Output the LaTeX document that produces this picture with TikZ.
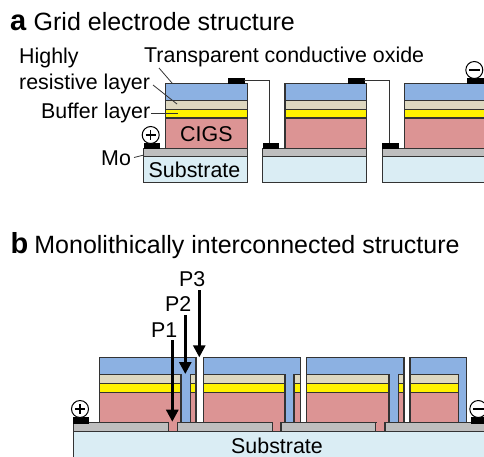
\documentclass[tikz,border=0pt]{standalone}
\usepackage{fontspec}
\setmainfont{Liberation Sans}
\usetikzlibrary{arrows.meta}
\definecolor{tcoblue}{HTML}{8CB1E2}
\definecolor{hrbeige}{HTML}{DED8C0}
\definecolor{cigsred}{HTML}{DC9494}
\definecolor{mogrey}{HTML}{BEBEBE}
\definecolor{subblue}{HTML}{DAEDF4}
\definecolor{edgegrey}{HTML}{333333}
\tikzset{
	film/.style={draw=edgegrey, line width=1.3pt},
	contact/.style={fill=black, draw=black, line width=0.4pt},
	lead/.style={draw=edgegrey, line width=0.8pt},
	wire/.style={draw=edgegrey, line width=0.9pt},
	sign/.style={draw=black, fill=white, circle, line width=1pt, minimum size=17pt, inner sep=0pt},
	signbar/.style={line width=1.1pt},
	textlabel/.style={anchor=base west, font=\fontsize{21.4}{21.4}\selectfont, inner sep=0pt},
	headline/.style={anchor=base west, font=\fontsize{25}{25}\selectfont, inner sep=0pt},
	panel/.style={anchor=base west, font=\fontsize{29}{29}\selectfont\bfseries, inner sep=0pt},
	scribe/.style={line width=2.8pt, black, -{Triangle[length=12pt,width=12pt]}}
}
% cell of the grid structure: (Mo left:stack left:right)
\def\gridcell(#1:#2:#3){
	\draw[film, fill=subblue] (#1, 156.7) rectangle (#3, 182.7);
	\draw[film, fill=mogrey] (#1, 148.3) rectangle (#3, 156.7);
	\draw[film, fill=cigsred] (#2, 118) rectangle (#3, 148.3);
	\draw[film, fill=yellow] (#2, 109.3) rectangle (#3, 118);
	\draw[film, fill=hrbeige] (#2, 100.7) rectangle (#3, 109.3);
	\draw[film, fill=tcoblue] (#2, 83.3) rectangle (#3, 100.7);
}
% stack of the monolithic structure: (left:right)
\def\stackpart(#1:#2){
	\draw[film, fill=cigsred] (#1, 392.3) rectangle (#2, 422.7);
	\draw[film, fill=yellow] (#1, 383.3) rectangle (#2, 392.3);
	\draw[film, fill=hrbeige] (#1, 374.7) rectangle (#2, 383.3);
}
% window layer with its contact finger: (left:finger left:finger right:right)
\def\tcopart(#1:#2:#3:#4){
	\draw[film, fill=tcoblue] (#1, 374.7) -- (#1, 357.3) -- (#4, 357.3) -- (#4, 374.7) -- (#3, 374.7) -- (#3, 422.7) -- (#2, 422.7) -- (#2, 374.7) -- cycle;
}

\begin{document}
\begin{tikzpicture}[x=1pt, y=-1pt]
	%%%%% START %%%%%
	\useasboundingbox (0, 0) rectangle (484, 456);
	\clip (0, 0) rectangle (484, 456);

	% a
	\node[panel] (panela) at (10, 30) {a};
	\node[headline] (titlea) at (33.5, 30) {Grid electrode structure};
	\gridcell(143.7:165.7:247.7)
	\gridcell(262.7:285:366.7)
	\gridcell(382.3:404.3:490)

	\draw[contact] (144, 143) rectangle (159.5, 148.3);
	\draw[contact] (263, 143) rectangle (278, 148.3);
	\draw[contact] (382.5, 143) rectangle (398, 148.3);
	\draw[contact] (228.3, 77.7) rectangle (244.3, 83.3);
	\draw[contact] (347.7, 77.7) rectangle (363.7, 83.3);
	\draw[contact] (466.7, 77.7) rectangle (482.7, 83.3);

	\draw[wire] (244.3, 80.7) -- (269.3, 80.7) -- (269.3, 143);
	\draw[wire] (363.7, 80.7) -- (389, 80.7) -- (389, 143);

	\node[sign] (plusa) at (150.7, 135) {};
	\draw[signbar] (145.7, 135) -- (155.7, 135) (150.7, 130) -- (150.7, 140);
	\node[sign] (minusa) at (474.3, 70) {};
	\draw[signbar] (469, 70) -- (479.6, 70);

	\node[textlabel] (tco) at (144, 62) {Transparent conductive oxide};
	\node[textlabel] (highly) at (19, 63) {Highly};
	\node[textlabel] (resistive) at (19, 89) {resistive layer};
	\node[textlabel] (buffer) at (41, 118) {Buffer layer};
	\node[textlabel] (mo) at (101, 165) {Mo};
	\node[textlabel] (cigs) at (180, 141) {CIGS};
	\node[textlabel] (substrate) at (148.5, 177) {Substrate};

	\coordinate (tcoend) at (172, 83);
	\coordinate (hrend) at (177, 104);
	\coordinate (bufferend) at (178, 113);
	\coordinate (moend) at (144, 155);
	\draw[lead] (159, 68) -- (tcoend);
	\draw[lead] (153, 85) -- (hrend);
	\draw[lead] (151, 113) -- (bufferend);
	\draw[lead] (134, 157.5) -- (moend);

	% b
	\node[panel] (panelb) at (10.5, 253) {b};
	\node[headline] (titleb) at (34.2, 253) {Monolithically interconnected structure};

	\fill[subblue] (73.3, 431.7) rectangle (490, 460);
	\draw[film] (73.3, 431.7) -- (73.3, 460);

	\draw[film, fill=cigsred] (168.3, 420) rectangle (177.7, 431.7);
	\draw[film, fill=cigsred] (272.3, 420) rectangle (281, 431.7);
	\draw[film, fill=cigsred] (375.7, 420) rectangle (385, 431.7);

	\stackpart(99.3:181)
	\stackpart(190.7:196)
	\stackpart(203.3:285)
	\stackpart(294:300.7)
	\stackpart(306.7:389)
	\stackpart(398.3:404)
	\stackpart(410:458.3)

	\fill[cigsred] (169.4, 421) rectangle (176.6, 431);
	\fill[cigsred] (273.4, 421) rectangle (279.9, 431);
	\fill[cigsred] (376.8, 421) rectangle (383.9, 431);

	\tcopart(99.3:181:190.7:196)
	\tcopart(203.3:285:294:300.7)
	\tcopart(306.7:389:398.3:404)
	\tcopart(410:458.3:466.7:466.7)

	\draw[film, fill=mogrey] (73.3, 422.7) rectangle (168.3, 431.7);
	\draw[film, fill=mogrey] (177.7, 422.7) rectangle (272.3, 431.7);
	\draw[film, fill=mogrey] (281, 422.7) rectangle (375.7, 431.7);
	\draw[film, fill=mogrey] (385, 422.7) rectangle (490, 431.7);

	\draw[contact] (72.7, 417.5) rectangle (88.3, 422.7);
	\draw[contact] (471, 417.5) rectangle (490, 422.7);

	\node[sign] (plusb) at (80, 409) {};
	\draw[signbar] (75, 409) -- (85, 409) (80, 404) -- (80, 414);
	\node[sign] (minusb) at (478.3, 409) {};
	\draw[signbar] (473, 409) -- (483.6, 409);

	\node[textlabel] (substrateb) at (231, 453) {Substrate};

	\node[textlabel] (pone) at (151, 337) {P1};
	\node[textlabel] (ptwo) at (165, 311) {P2};
	\node[textlabel] (pthree) at (179, 286) {P3};

	\coordinate (ponetail) at (172.3, 340);
	\coordinate (ponetip) at (172.3, 421.7);
	\coordinate (ptwotail) at (185.3, 315);
	\coordinate (ptwotip) at (185.3, 374);
	\coordinate (pthreetail) at (199.3, 290);
	\coordinate (pthreetip) at (199.3, 357.3);
	\draw[scribe] (ponetail) -- (ponetip);
	\draw[scribe] (ptwotail) -- (ptwotip);
	\draw[scribe] (pthreetail) -- (pthreetip);
	%%%%% END %%%%%
\end{tikzpicture}
\end{document}
